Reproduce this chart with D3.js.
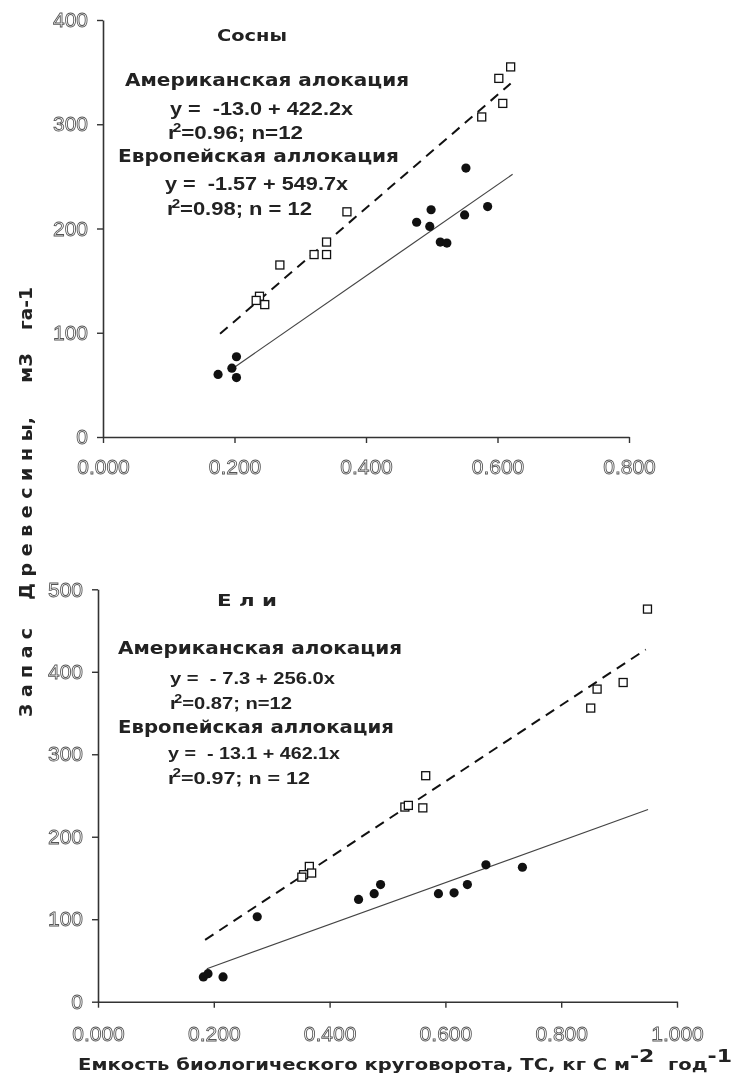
<!DOCTYPE html>
<html><head><meta charset="utf-8">
<script src="https://cdn.jsdelivr.net/npm/d3@7"></script>
<style>body{margin:0;background:#fff} svg{will-change:transform} text{white-space:pre}</style></head><body>
<svg id="c" width="734" height="1077"></svg>
<script>
// ---- data ----
const pineOpen = [[0.620,355],[0.602,344],[0.608,320],[0.576,307],[0.371,216],[0.340,187],[0.321,175],[0.340,175],[0.269,165],[0.238,135],[0.233,131],[0.246,127]];
const pineFilled = [[0.175,60],[0.196,66],[0.203,77],[0.203,57],[0.552,258],[0.499,218],[0.477,206],[0.497,202],[0.550,213],[0.585,221],[0.513,187],[0.523,186]];
const spruceOpen = [[0.949,476],[0.907,387],[0.862,379],[0.851,356],[0.566,274],[0.561,235],[0.530,236],[0.536,238],[0.365,164],[0.355,154],[0.369,156],[0.352,151]];
const spruceFilled = [[0.182,30],[0.190,34],[0.216,30],[0.275,103],[0.450,124],[0.477,131],[0.488,142],[0.588,131],[0.615,132],[0.638,142],[0.670,166],[0.733,163]];
const pineDashed = [[0.178,99],[0.620,339]];
const pineSolid = [[0.200,67],[0.623,252]];
const spruceDashed = [[0.185,75],[0.946,427]];
const spruceSolid = [[0.188,40],[0.950,233]];
const pineXTicks = [0,0.2,0.4,0.6,0.8];
const pineYTicks = [0,100,200,300,400];
const spruceXTicks = [0,0.2,0.4,0.6,0.8,1.0];
const spruceYTicks = [0,100,200,300,400,500];

const svg = d3.select("#c");

function panel(o){
  const x = d3.scaleLinear().domain(o.xd).range(o.xr);
  const y = d3.scaleLinear().domain(o.yd).range(o.yr);
  const g = svg.append("g");
  const ya = g.append("g").attr("transform",`translate(${o.xr[0]},0)`)
    .call(d3.axisLeft(y).tickValues(o.yt).tickSize(6).tickSizeOuter(0).tickPadding(o.ypad).tickFormat(d3.format("d")));
  const xa = g.append("g").attr("transform",`translate(0,${o.yr[0]})`)
    .call(d3.axisBottom(x).tickValues(o.xt).tickSize(6).tickSizeOuter(0).tickPadding(o.xpad).tickFormat(d3.format(".3f")));
  [ya,xa].forEach(a=>{
    a.select(".domain").attr("stroke","#333").attr("stroke-width",1.6);
    a.selectAll(".tick line").attr("stroke","#333").attr("stroke-width",1.4);
    a.selectAll(".tick text").attr("font-family","'Liberation Sans',Arial,sans-serif")
      .attr("font-size",21).attr("fill","#fff").attr("stroke","#555").attr("stroke-width",0.85);
  });
  const line = d3.line().x(d=>x(d[0])).y(d=>y(d[1]));
  g.append("path").attr("d",line(o.dashed)).attr("fill","none").attr("stroke","#111")
    .attr("stroke-width",2).attr("stroke-dasharray","10,7");
  g.append("path").attr("d",line(o.solid)).attr("fill","none").attr("stroke","#444")
    .attr("stroke-width",1.2);
  g.selectAll(".sq").data(o.open).join("rect")
    .attr("x",d=>x(d[0])-4).attr("y",d=>y(d[1])-4).attr("width",8).attr("height",8)
    .attr("fill","#fff").attr("stroke","#111").attr("stroke-width",1.3);
  g.selectAll(".dot").data(o.filled).join("circle")
    .attr("cx",d=>x(d[0])).attr("cy",d=>y(d[1])).attr("r",4.6).attr("fill","#111");
}

panel({xd:[0,0.8],xr:[103,629],yd:[0,400],yr:[437,20],xt:pineXTicks,yt:pineYTicks,ypad:9,xpad:16,
  open:pineOpen,filled:pineFilled,dashed:pineDashed,solid:pineSolid});
panel({xd:[0,1.0],xr:[98,677],yd:[0,500],yr:[1001.7,589.3],xt:spruceXTicks,yt:spruceYTicks,ypad:9,xpad:18,
  open:spruceOpen,filled:spruceFilled,dashed:spruceDashed,solid:spruceSolid});

const headFont = "'DejaVu Sans','Open Sans',sans-serif";
const eqFont = "'Liberation Sans Narrow','Arial Narrow','Liberation Sans',sans-serif";

function head(txt,x,yb,w,fs){
  svg.append("text").attr("x",x).attr("y",yb).attr("font-family",headFont).attr("font-weight","bold")
    .attr("font-size",fs||17).attr("fill","#222").attr("textLength",w).attr("lengthAdjust","spacingAndGlyphs").text(txt);
}
function eq(txt,x,yb,w,fs){
  svg.append("text").attr("x",x).attr("y",yb).attr("font-family",eqFont).attr("font-weight","bold")
    .attr("font-size",fs||18).attr("fill","#222").attr("textLength",w).attr("lengthAdjust","spacingAndGlyphs").text(txt);
}
function r2(rest,x,yb,w,fs,up){
  const f = fs||18, u = up||7;
  const t = svg.append("text").attr("x",x).attr("y",yb).attr("font-family",eqFont).attr("font-weight","bold")
    .attr("font-size",f).attr("fill","#222").attr("textLength",w).attr("lengthAdjust","spacingAndGlyphs");
  t.append("tspan").text("r");
  t.append("tspan").attr("dy",-u).attr("dx",-3).attr("font-size",12).text("2");
  t.append("tspan").attr("dy",u).text(rest);
}

// Pines
head("Сосны",217,41,70,16);
head("Американская алокация",125,86,284);
eq("y =  -13.0 + 422.2x",170,114.5,183);
r2("=0.96; n=12",168,138.5,135);
head("Европейская аллокация",118,162,281);
eq("y =  -1.57 + 549.7x",165,189.5,183);
r2("=0.98; n = 12",167,214.5,145);

// Spruces
head("Е л и",217,606,60,16);
head("Американская алокация",118,654,284);
eq("y =  - 7.3 + 256.0x",170,683.5,165,17);
r2("=0.87; n=12",170,708.5,122,17,6);
head("Европейская аллокация",118,733,276);
eq("y =  - 13.1 + 462.1x",168,759,172,17);
r2("=0.97; n = 12",168,784,142,17);

// Y axis label (rotated pieces)
const yl = [["З а п а с",717,89],["Д р е в е с и н ы,",600,183],["м3",383,30],["га-1",330,43]];
yl.forEach(([t,ys,len])=>{
  svg.append("text").attr("transform",`translate(32,${ys}) rotate(-90)`)
    .attr("font-family",headFont).attr("font-weight","bold").attr("font-size",17).attr("fill","#222")
    .attr("textLength",len).attr("lengthAdjust","spacingAndGlyphs").text(t);
});

// X axis label
const xl = svg.append("text").attr("x",78).attr("y",1070).attr("font-family",headFont).attr("font-weight","bold")
  .attr("font-size",16).attr("fill","#222").attr("textLength",654).attr("lengthAdjust","spacingAndGlyphs");
xl.append("tspan").text("Емкость биологического круговорота, ТС, кг С м");
xl.append("tspan").attr("dy",-8).attr("font-size",18).text("-2");
xl.append("tspan").attr("dy",8).text("  год");
xl.append("tspan").attr("dy",-8).attr("font-size",18).text("-1");
</script>
</body></html>
